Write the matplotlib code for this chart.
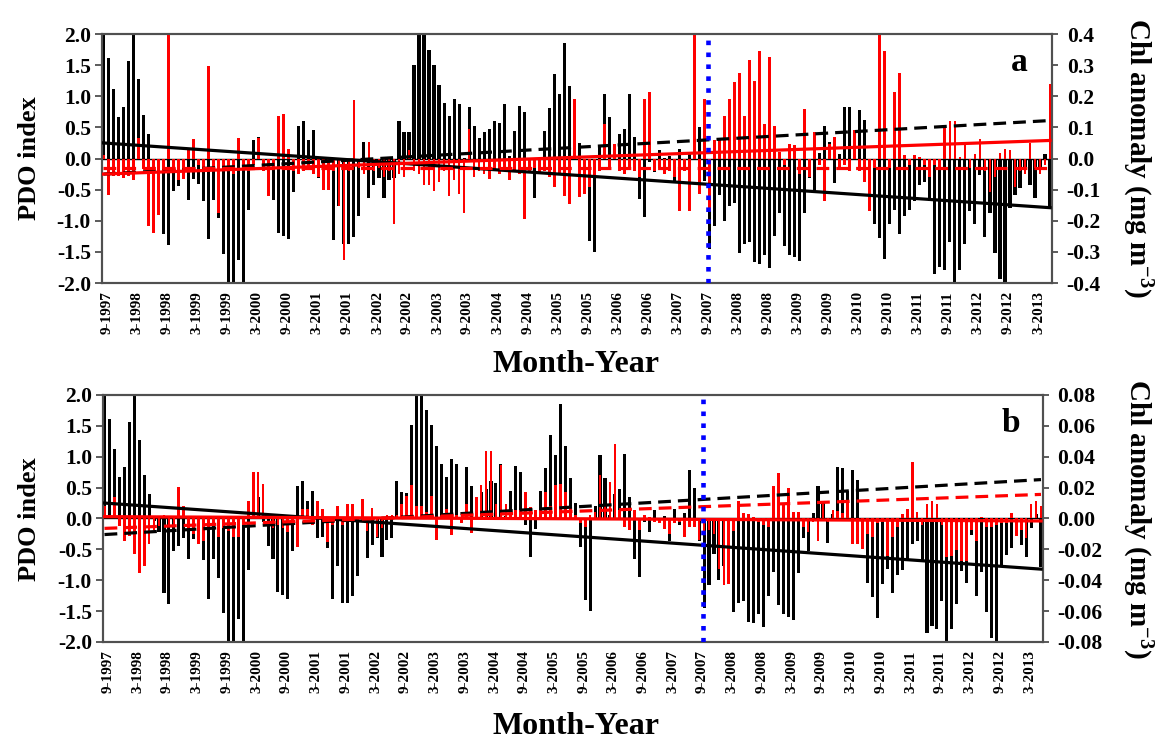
import numpy as np
import matplotlib
matplotlib.use("Agg")
import matplotlib.pyplot as plt
from matplotlib.ticker import FormatStrFormatter, MultipleLocator

plt.rcParams['font.family'] = ['Liberation Serif', 'DejaVu Serif']
plt.rcParams['font.weight'] = 'bold'
plt.rcParams['mathtext.fontset'] = 'custom'
plt.rcParams['mathtext.rm'] = 'Liberation Serif:bold'
plt.rcParams['mathtext.it'] = 'Liberation Serif:bold'
plt.rcParams['mathtext.bf'] = 'Liberation Serif:bold'
plt.rcParams['axes.unicode_minus'] = False

# ---------------- data: monthly, Sep-1997 .. Jun-2013 ----------------
pdo = [
    2.19, 1.61, 1.12, 0.67,
    0.83, 1.56, 2.01, 1.27, 0.70, 0.40, -0.04, -0.22, -1.21, -1.39, -0.52, -0.44,
    -0.32, -0.66, -0.33, -0.41, -0.68, -1.30, -0.66, -0.96, -1.53, -2.23, -2.05, -1.63,
    -2.00, -0.83, 0.29, 0.35, -0.05, -0.44, -0.66, -1.19, -1.24, -1.30, -0.53, 0.52,
    0.60, 0.29, 0.45, -0.31, -0.30, -0.47, -1.31, -0.77, -1.37, -1.37, -1.26, -0.93,
    0.27, -0.64, -0.43, -0.32, -0.63, -0.35, -0.31, 0.60, 0.43, 0.42, 1.51, 2.10,
    2.09, 1.75, 1.51, 1.18, 0.89, 0.68, 0.96, 0.88, 0.01, 0.83, 0.52, 0.33,
    0.43, 0.48, 0.61, 0.57, 0.88, 0.04, 0.44, 0.85, 0.75, -0.11, -0.63, -0.17,
    0.44, 0.81, 1.36, 1.03, 1.86, 1.17, 0.66, 0.25, -0.46, -1.32, -1.50, 0.20,
    1.03, 0.66, 0.05, 0.40, 0.48, 1.04, 0.35, -0.65, -0.94, -0.05, -0.22, 0.14,
    0.01, 0.04, -0.36, 0.16, -0.10, 0.09, 0.78, 0.50, -0.36, -1.45, -1.08, -0.58,
    -1.00, -0.77, -0.71, -1.52, -1.37, -1.34, -1.67, -1.70, -1.55, -1.76, -1.25, -0.87,
    -1.40, -1.55, -1.59, -1.65, -0.88, -0.31, -0.53, 0.09, 0.52, 0.27, -0.40, 0.08,
    0.83, 0.82, 0.44, 0.78, 0.62, -0.22, -1.05, -1.27, -1.61, -1.06, -0.82, -1.21,
    -0.92, -0.83, -0.69, -0.42, -0.37, -0.69, -1.86, -1.74, -1.79, -1.34, -2.33, -1.79,
    -1.38, -0.85, -1.05, -0.27, -1.26, -0.87, -1.52, -1.93, -2.21, -0.79, -0.59, -0.48,
    -0.13, -0.43, -0.63, -0.16, 0.08, -0.78,
]

# Chl anomaly, panel a (mg m-3)
chl_a = [
    0.012, -0.116, -0.056, -0.056,
    -0.064, -0.056, -0.068, 0.066, -0.034, -0.216, -0.238, -0.182, -0.040, 0.440, -0.038, -0.068,
    -0.066, 0.026, 0.064, -0.020, -0.040, 0.296, -0.040, -0.174, -0.040, -0.030, -0.050, 0.066,
    -0.030, -0.040, -0.020, 0.066, -0.040, -0.120, -0.030, 0.138, 0.144, 0.032, -0.040, -0.050,
    -0.040, -0.030, -0.050, -0.060, -0.100, -0.100, -0.040, -0.152, -0.326, -0.040, 0.188, -0.030,
    -0.050, 0.052, -0.040, -0.030, -0.060, -0.040, -0.210, -0.050, -0.060, 0.026, -0.040, -0.050,
    -0.084, -0.084, -0.104, -0.074, -0.040, -0.122, -0.070, -0.114, -0.176, 0.096, -0.060, -0.040,
    -0.050, -0.066, -0.040, -0.050, -0.030, -0.070, -0.040, -0.050, -0.194, -0.040, -0.030, -0.050,
    -0.040, -0.060, -0.092, -0.050, -0.122, -0.146, 0.192, -0.124, -0.114, -0.090, -0.060, -0.040,
    0.112, -0.030, 0.048, -0.040, -0.050, -0.030, -0.040, -0.060, 0.192, 0.214, -0.040, -0.030,
    -0.050, -0.040, -0.060, -0.168, -0.040, -0.168, 0.440, -0.114, 0.192, -0.170, 0.058, 0.058,
    0.136, 0.192, 0.246, 0.276, 0.136, 0.316, 0.248, 0.344, 0.110, 0.326, 0.106, 0.020,
    -0.020, 0.048, 0.042, -0.050, 0.160, -0.060, 0.084, -0.020, -0.138, 0.048, 0.070, -0.030,
    -0.020, -0.040, 0.090, -0.040, -0.076, -0.170, -0.030, 0.440, 0.344, -0.030, 0.214, 0.276,
    0.010, -0.020, 0.010, 0.006, -0.020, -0.060, -0.020, -0.030, 0.106, 0.120, 0.120, 0.006,
    0.042, -0.030, 0.016, 0.064, -0.040, -0.108, -0.060, 0.018, 0.032, 0.028, -0.092, -0.040,
    -0.050, 0.050, -0.030, -0.050, -0.020, 0.238,
]

# Chl anomaly, panel b (mg m-3)
chl_b = [
    0.0084, 0.0020, 0.0136, -0.0048,
    -0.0144, -0.0112, -0.0228, -0.0356, -0.0308, -0.0164, -0.0076, -0.0048, 0.0020, -0.0040, -0.0056, 0.0204,
    0.0084, -0.0076, -0.0100, -0.0164, -0.0144, -0.0060, -0.0040, -0.0120, -0.0060, -0.0080, -0.0120, -0.0120,
    -0.0040, 0.0116, 0.0300, 0.0300, 0.0224, 0.0020, -0.0060, -0.0040, -0.0060, -0.0088, -0.0040, -0.0184,
    0.0064, 0.0064, -0.0040, 0.0116, 0.0064, -0.0152, -0.0040, 0.0084, -0.0040, 0.0096, 0.0096, -0.0020,
    0.0128, -0.0080, 0.0068, -0.0120, -0.0060, 0.0020, 0.0020, 0.0020, 0.0096, 0.0148, 0.0220, 0.0084,
    0.0084, 0.0040, 0.0148, -0.0140, 0.0020, 0.0064, -0.0104, 0.0020, -0.0032, 0.0096, -0.0096, 0.0140,
    0.0216, 0.0440, 0.0440, 0.0096, 0.0344, 0.0096, 0.0052, 0.0052, 0.0052, 0.0172, 0.0072, 0.0052,
    0.0052, 0.0172, 0.0084, 0.0216, 0.0224, 0.0172, 0.0084, 0.0020, -0.0032, -0.0056, 0.0020, 0.0040,
    0.0280, 0.0096, 0.0236, 0.0484, 0.0052, -0.0056, -0.0076, 0.0052, -0.0076, 0.0020, 0.0008, -0.0024,
    -0.0032, -0.0068, -0.0100, -0.0032, -0.0020, -0.0120, -0.0056, -0.0056, -0.0140, -0.0080, -0.0076, -0.0100,
    -0.0328, -0.0432, -0.0424, -0.0080, 0.0116, 0.0036, 0.0028, 0.0012, -0.0020, -0.0040, -0.0056, 0.0208,
    0.0296, 0.0096, 0.0200, 0.0040, 0.0040, -0.0056, -0.0088, -0.0020, -0.0144, 0.0096, -0.0020, 0.0052,
    0.0048, 0.0036, 0.0116, -0.0168, -0.0164, -0.0196, -0.0100, -0.0120, -0.0032, -0.0020, -0.0240, -0.0120,
    -0.0056, 0.0028, 0.0064, 0.0364, 0.0040, -0.0040, 0.0092, 0.0116, 0.0092, -0.0040, -0.0248, -0.0244,
    -0.0204, -0.0276, -0.0276, -0.0076, -0.0148, 0.0012, -0.0056, -0.0056, -0.0040, -0.0032, -0.0032, 0.0036,
    -0.0116, -0.0072, -0.0124, 0.0096, 0.0116, 0.0084,
]

# trend lines (start and end values)
trend_x = [0, 189]
a_pdo_trend = [0.25, -0.79]         # black solid (PDO)
a_pdo_trend2 = [-0.25, 0.61]        # black dashed (PDO)
a_chl_trend = [-0.050, 0.058]       # red solid (Chl)
a_chl_trend2 = [-0.029, -0.029]     # red dashed (Chl)
b_pdo_trend = [0.25, -0.82]
b_pdo_trend2 = [-0.26, 0.63]
b_chl_trend = [0.0012, -0.0016]
b_chl_trend2 = [-0.0064, 0.0156]
break_month = 120.7                 # Sep/Oct 2007

tick_labels = ['9-1997', '3-1998', '9-1998', '3-1999', '9-1999', '3-2000', '9-2000',
               '3-2001', '9-2001', '3-2002', '9-2002', '3-2003', '9-2003', '3-2004',
               '9-2004', '3-2005', '9-2005', '3-2006', '9-2006', '3-2007', '9-2007',
               '3-2008', '9-2008', '3-2009', '9-2009', '3-2010', '9-2010', '3-2011',
               '9-2011', '3-2012', '9-2012', '3-2013']

x = np.arange(len(pdo))
tick_pos = np.arange(len(tick_labels)) * 6 + 0.7

fig = plt.figure(figsize=(11.63, 7.44), dpi=100)

panels = [
    dict(rect=[0.0877, 0.6196, 0.8169, 0.3347], chl=chl_a, ylim2=0.4, step2=0.1, fmt2='%.1f',
         pt=a_pdo_trend, pt2=a_pdo_trend2, ct=a_chl_trend, ct2=a_chl_trend2, letter='a',
         xlabel_y=365 / 744, ylab_y=158 / 744),
    dict(rect=[0.0886, 0.1371, 0.8082, 0.3320], chl=chl_b, ylim2=0.08, step2=0.02, fmt2='%.2f',
         pt=b_pdo_trend, pt2=b_pdo_trend2, ct=b_chl_trend, ct2=b_chl_trend2, letter='b',
         xlabel_y=727 / 744, ylab_y=519 / 744),
]

for p in panels:
    ax1 = fig.add_axes(p['rect'])
    ax2 = ax1.twinx()
    ax1.bar(x, pdo, width=0.62, color='black', linewidth=0)
    ax2.bar(x, p['chl'], width=0.55, color='#ff0000', linewidth=0)
    ax1.axhline(0, color='black', lw=1.0)
    ax1.set_ylim(-2, 2)
    ax2.set_ylim(-p['ylim2'], p['ylim2'])
    ax1.set_xlim(-0.3, 189.4)

    # lines on top of both bar layers
    ax2.plot(trend_x, p['pt'], color='black', lw=2.3, transform=ax1.transData, zorder=5)
    ax2.plot(trend_x, p['pt2'], color='black', lw=2.3, ls=(0, (4, 2.2)),
             transform=ax1.transData, zorder=5)
    ax2.plot(trend_x, p['ct'], color='#ff0000', lw=2.3, zorder=5)
    ax2.plot(trend_x, p['ct2'], color='#ff0000', lw=2.3, ls=(0, (4, 2.2)), zorder=5)
    ax2.axvline(break_month, color='#0000ff', lw=3.3, ls=(0, (1, 1.6)), zorder=6)

    ax1.yaxis.set_major_locator(MultipleLocator(0.5))
    ax1.yaxis.set_major_formatter(FormatStrFormatter('%.1f'))
    ax2.yaxis.set_major_locator(MultipleLocator(p['step2']))
    ax2.yaxis.set_major_formatter(FormatStrFormatter(p['fmt2']))

    ax1.set_xticks(tick_pos)
    ax1.set_xticklabels(tick_labels, rotation=90, fontsize=11, fontweight='bold')
    ax1.tick_params(axis='x', length=0, pad=6)
    ax1.tick_params(axis='y', direction='out', length=5, width=1.2, labelsize=15.5, pad=3,
                    color='#404040')
    ax2.tick_params(axis='y', direction='out', length=4.5, width=1.2, labelsize=15.5, pad=6,
                    color='#404040')
    for lab in ax1.get_yticklabels() + ax2.get_yticklabels():
        lab.set_fontweight('bold')
    for sp in ax1.spines.values():
        sp.set_color('#505050')
        sp.set_linewidth(1.5)
    for sp in ax2.spines.values():
        sp.set_color('#505050')
        sp.set_linewidth(1.5)

    ax1.text(0.966, 0.885, p['letter'], transform=ax1.transAxes, fontsize=24,
             fontweight='bold', ha='center', va='center')

    left, bottom, w, h = p['rect']
    fig.text(576 / 1163, 1 - p['xlabel_y'], 'Month-Year', fontsize=23,
             fontweight='bold', ha='center', va='center')
    fig.text(30 / 1163, 1 - p['ylab_y'], 'PDO index', fontsize=19, fontweight='bold',
             rotation=90, ha='center', va='center')
    fig.text(1137 / 1163, 1 - p['ylab_y'], 'Chl anomaly (mg m$^{-3}$)', fontsize=21,
             fontweight='bold', rotation=270, ha='center', va='center')

fig.savefig('out.png', dpi=100)
